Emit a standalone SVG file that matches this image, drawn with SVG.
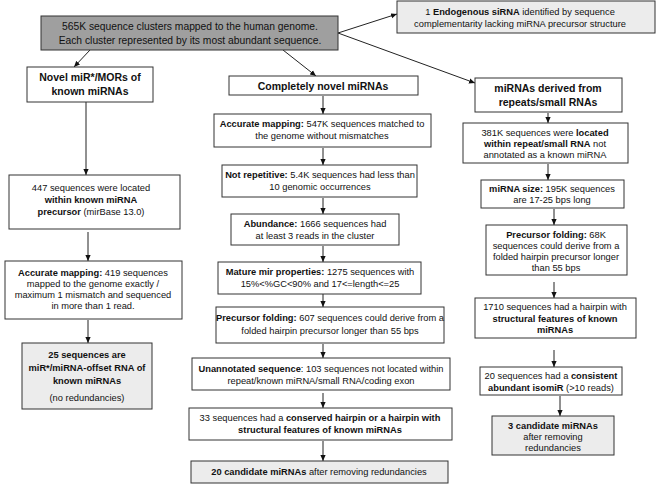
<svg xmlns="http://www.w3.org/2000/svg" width="657" height="487" viewBox="0 0 657 487">
<style>
.b{fill:#fff;stroke:#333;stroke-width:1}
.g{fill:#ececec;stroke:#333;stroke-width:1}
.d{fill:#9f9f9f;stroke:#333;stroke-width:1}
text{font-family:"Liberation Sans",Arial,sans-serif;font-size:9.3px;fill:#111;text-anchor:middle}
.h{font-size:10.5px;font-weight:bold}
.t{font-size:10.3px}
.k{font-weight:bold}
.c line{stroke:#222;stroke-width:1;marker-end:url(#a)}
</style>
<defs>
<marker id="a" viewBox="0 0 8 8" refX="8" refY="4" markerWidth="6" markerHeight="6" markerUnits="userSpaceOnUse" orient="auto">
<path d="M0,0.5 L8,4 L0,7.5 Z" fill="#111"/>
</marker>
</defs>
<rect width="657" height="487" fill="#fff"/>
<g class="c">
<line x1="90" y1="50" x2="74" y2="67"/>
<line x1="283" y1="50" x2="316" y2="76"/>
<line x1="338" y1="33" x2="397" y2="14"/>
<line x1="338" y1="33" x2="475" y2="83"/>
<line x1="86" y1="102" x2="86" y2="175"/>
<line x1="88" y1="232" x2="88" y2="261"/>
<line x1="88" y1="320" x2="88" y2="343"/>
<line x1="323" y1="96" x2="323" y2="114"/>
<line x1="323" y1="148" x2="323" y2="165"/>
<line x1="323" y1="198" x2="323" y2="214"/>
<line x1="323" y1="246" x2="323" y2="262"/>
<line x1="323" y1="292" x2="323" y2="307"/>
<line x1="323" y1="344" x2="323" y2="358"/>
<line x1="323" y1="393" x2="323" y2="408"/>
<line x1="323" y1="441" x2="323" y2="461"/>
<line x1="548" y1="113" x2="548" y2="123"/>
<line x1="548" y1="164" x2="548" y2="180"/>
<line x1="554" y1="209" x2="554" y2="225"/>
<line x1="554" y1="282" x2="554" y2="298"/>
<line x1="554" y1="350" x2="554" y2="367"/>
<line x1="560" y1="396" x2="560" y2="416"/>
</g>
<g id="top">
<rect class="d" x="41" y="16" width="297" height="34"/>
<text class="t" x="190" y="30">565K sequence clusters mapped to the human genome.</text>
<text class="t" x="190" y="44">Each cluster represented by its most abundant sequence.</text>
</g>
<g id="sirna">
<rect class="g" x="397" y="1" width="258" height="32"/>
<text x="520" y="15">1 <tspan class="k">Endogenous siRNA</tspan> identified by sequence</text>
<text x="520" y="27">complementarity lacking miRNA precursor structure</text>
</g>
<g id="novelstar">
<rect class="b" x="27" y="67" width="126" height="35"/>
<text class="h" x="90" y="81">Novel miR*/MORs of</text>
<text class="h" x="90" y="95">known miRNAs</text>
</g>
<g id="l1">
<rect class="b" x="9" y="175" width="171" height="54"/>
<text x="91" y="191">447 sequences were located</text>
<text x="91" y="203" class="k">within known miRNA</text>
<text x="91" y="215"><tspan class="k">precursor</tspan> (mirBase 13.0)</text>
</g>
<g id="l2">
<rect class="b" x="5" y="261" width="177" height="58"/>
<text x="93" y="276"><tspan class="k">Accurate mapping:</tspan> 419 sequences</text>
<text x="93" y="287">mapped to the genome exactly /</text>
<text x="93" y="298">maximum 1 mismatch and sequenced</text>
<text x="93" y="309">in more than 1 read.</text>
</g>
<g id="l3">
<rect class="g" x="22" y="343" width="130" height="66"/>
<text class="k" x="87" y="358">25 sequences are</text>
<text class="k" x="87" y="371">miR*/miRNA-offset RNA of</text>
<text class="k" x="87" y="384">known miRNAs</text>
<text x="87" y="401">(no redundancies)</text>
</g>
<g id="novel">
<rect class="b" x="229" y="76" width="189" height="19"/>
<text class="h" x="323" y="89.5">Completely novel miRNAs</text>
</g>
<g id="m1">
<rect class="b" x="214" y="114" width="217" height="33"/>
<text x="322" y="127"><tspan class="k">Accurate mapping:</tspan> 547K sequences matched to</text>
<text x="322" y="139">the genome without mismatches</text>
</g>
<g id="m2">
<rect class="b" x="222" y="165" width="195" height="32"/>
<text x="320" y="178"><tspan class="k">Not repetitive:</tspan> 5.4K sequences had less than</text>
<text x="320" y="190">10 genomic occurrences</text>
</g>
<g id="m3">
<rect class="b" x="231" y="214" width="168" height="31"/>
<text x="315" y="227"><tspan class="k">Abundance:</tspan> 1666 sequences had</text>
<text x="315" y="239">at least 3 reads in the cluster</text>
</g>
<g id="m4">
<rect class="b" x="218" y="262" width="203" height="32"/>
<text x="320" y="275"><tspan class="k">Mature mir properties:</tspan> 1275 sequences with</text>
<text x="320" y="287">15%&lt;%GC&lt;90% and 17&lt;=length&lt;=25</text>
</g>
<g id="m5">
<rect class="b" x="216" y="307" width="228" height="36"/>
<text x="330" y="321"><tspan class="k">Precursor folding:</tspan> 607 sequences could derive from a</text>
<text x="330" y="334">folded hairpin precursor longer than 55 bps</text>
</g>
<g id="m6">
<rect class="b" x="192" y="358" width="258" height="32"/>
<text x="321" y="372"><tspan class="k">Unannotated sequence</tspan>: 103 sequences not located within</text>
<text x="321" y="384">repeat/known miRNA/small RNA/coding exon</text>
</g>
<g id="m7">
<rect class="b" x="189" y="408" width="263" height="32"/>
<text x="320" y="421">33 sequences had a <tspan class="k">conserved hairpin or a hairpin with</tspan></text>
<text x="320" y="433" class="k">structural features of known miRNAs</text>
</g>
<g id="m8">
<rect class="g" x="191" y="461" width="257" height="22"/>
<text x="319" y="475"><tspan class="k">20 candidate miRNAs</tspan> after removing redundancies</text>
</g>
<g id="derived">
<rect class="b" x="475" y="78" width="147" height="34"/>
<text class="h" x="548" y="92">miRNAs derived from</text>
<text class="h" x="548" y="106">repeats/small RNAs</text>
</g>
<g id="r1">
<rect class="b" x="463" y="123" width="165" height="40"/>
<text x="545" y="136">381K sequences were <tspan class="k">located</tspan></text>
<text x="545" y="147"><tspan class="k">within repeat/small RNA</tspan> not</text>
<text x="545" y="158">annotated as a known miRNA</text>
</g>
<g id="r2">
<rect class="b" x="481" y="180" width="143" height="28"/>
<text x="552" y="192"><tspan class="k">miRNA size:</tspan> 195K sequences</text>
<text x="552" y="203">are 17-25 bps long</text>
</g>
<g id="r3">
<rect class="b" x="486" y="225" width="141" height="50"/>
<text x="556" y="238"><tspan class="k">Precursor folding:</tspan> 68K</text>
<text x="556" y="249">sequences could derive from a</text>
<text x="556" y="260">folded hairpin precursor longer</text>
<text x="556" y="271">than 55 bps</text>
</g>
<g id="r4">
<rect class="b" x="475" y="298" width="161" height="40"/>
<text x="555" y="310">1710 sequences had a hairpin with</text>
<text x="555" y="322" class="k">structural features of known</text>
<text x="555" y="333" class="k">miRNAs</text>
</g>
<g id="r5">
<rect class="b" x="480" y="367" width="142" height="28"/>
<text x="551" y="379">20 sequences had a <tspan class="k">consistent</tspan></text>
<text x="551" y="391"><tspan class="k">abundant isomiR</tspan> (&gt;10 reads)</text>
</g>
<g id="r6">
<rect class="g" x="492" y="416" width="122" height="39"/>
<text x="553" y="429" class="k">3 candidate miRNAs</text>
<text x="553" y="440">after removing</text>
<text x="553" y="451">redundancies</text>
</g>
</svg>
